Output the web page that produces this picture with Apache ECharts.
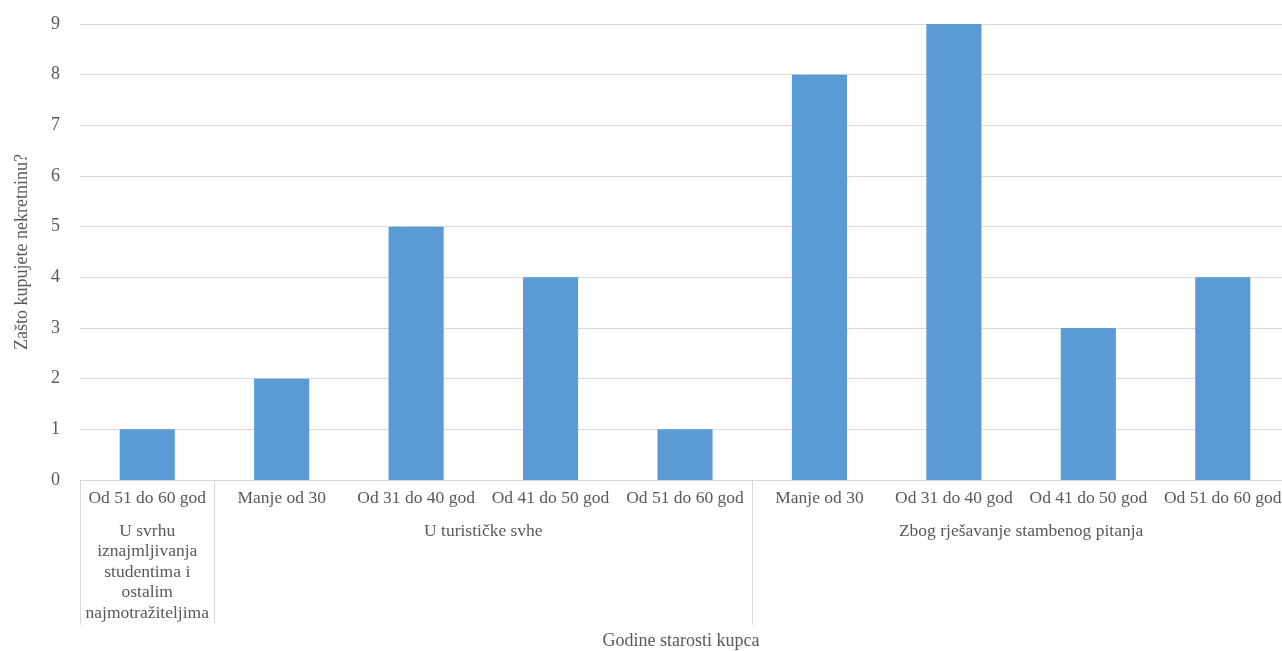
<!DOCTYPE html>
<html>
<head>
<meta charset="utf-8">
<script src="https://cdn.jsdelivr.net/npm/echarts@6/dist/echarts.min.js"></script>
<style>html,body{margin:0;padding:0;background:#fff;overflow:hidden}#c{width:1282px;height:651px}</style>
</head>
<body>
<div id="c"></div>
<script>
const categories = ["Od 51 do 60 god","Manje od 30","Od 31 do 40 god","Od 41 do 50 god","Od 51 do 60 god","Manje od 30","Od 31 do 40 god","Od 41 do 50 god","Od 51 do 60 god"];
const values = [1,2,5,4,1,8,9,3,4];
const groupNames = ["U svrhu\niznajmljivanja\nstudentima i\nostalim\nnajmotražiteljima","U turističke svhe","Zbog rješavanje stambenog pitanja"];
const groupCenters = [0, 2.5, 6.5];
const groupBounds = [-0.5, 0.5, 4.5, 8.5];
const yTicks = [0,1,2,3,4,5,6,7,8,9];

const font = "'Liberation Serif','Times New Roman',serif";
const txt = '#595959';
const chart = echarts.init(document.getElementById('c'));
chart.setOption({
  animation:false,
  grid:{left:80,right:-8,top:24,bottom:171,containLabel:false,outerBoundsMode:'none'},
  xAxis:[{
    type:'category', data:categories,
    axisTick:{show:false},
    axisLine:{lineStyle:{color:'#d9d9d9',width:1}},
    axisLabel:{color:txt,fontFamily:font,fontSize:17.5,margin:9,interval:0}
  },{
    type:'value', min:-0.5, max:8.5, position:'bottom',
    axisLine:{show:false}, splitLine:{show:false},
    axisTick:{show:true,customValues:groupBounds,length:145,lineStyle:{color:'#d9d9d9'}},
    axisLabel:{show:true,customValues:groupCenters,color:txt,fontFamily:font,fontSize:17.5,lineHeight:20.5,margin:41,
      formatter:function(v){const i=groupCenters.indexOf(v);return i>=0?groupNames[i]:'';}},
    name:'Godine starosti kupca', nameLocation:'middle', nameGap:152,
    nameTextStyle:{color:txt,fontFamily:font,fontSize:18,padding:[0,8,0,0]}
  }],
  yAxis:{
    type:'value', min:yTicks[0], max:yTicks[yTicks.length-1], interval:1,
    axisLine:{show:false}, axisTick:{show:false},
    splitLine:{lineStyle:{color:'#d9d9d9'}},
    axisLabel:{color:txt,fontFamily:font,fontSize:18,margin:20},
    name:'Zašto kupujete nekretninu?', nameLocation:'middle', nameGap:49,
    nameTextStyle:{color:txt,fontFamily:font,fontSize:18}
  },
  series:[{type:'bar',data:values,xAxisIndex:0,barWidth:'41%',itemStyle:{color:'#5B9BD5'}}]
});
</script>
</body>
</html>
